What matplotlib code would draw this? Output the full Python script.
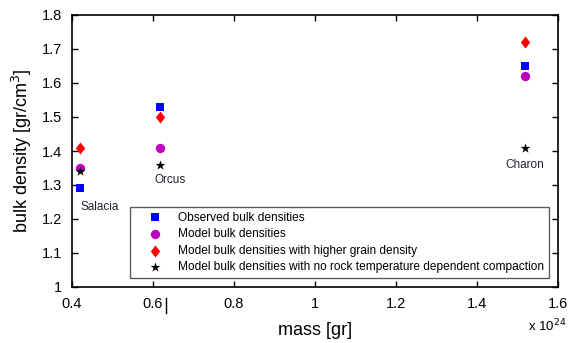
import matplotlib
matplotlib.use("Agg")
from matplotlib import pyplot as plt
from matplotlib.lines import Line2D

plt.rcParams["font.family"] = ["Liberation Sans", "DejaVu Sans"]

# masses in units of 1e24 gr
MASS = [0.42, 0.617, 1.518]
BODIES = ["Salacia", "Orcus", "Charon"]
OBSERVED = [1.29, 1.53, 1.65]
MODEL = [1.35, 1.41, 1.62]
HIGH_GRAIN = [1.41, 1.50, 1.72]
NO_COMPACTION = [1.34, 1.36, 1.41]
XTICKS = [0.4, 0.6, 0.8, 1.0, 1.2, 1.4, 1.6]
XTICKLABELS = ["0.4", "0.6", "0.8", "1", "1.2", "1.4", "1.6"]
YTICKS = [1.0, 1.1, 1.2, 1.3, 1.4, 1.5, 1.6, 1.7, 1.8]
YTICKLABELS = ["1", "1.1", "1.2", "1.3", "1.4", "1.5", "1.6", "1.7", "1.8"]

# a diamond a bit narrower than tall, like the original
DIAMOND = [(0, 1), (0.78, 0), (0, -1), (-0.78, 0), (0, 1)]

fig = plt.figure(figsize=(5.69, 3.43), dpi=100)
ax = fig.add_axes([72 / 569, 1 - 287 / 343, (558 - 72) / 569, (287 - 15) / 343])

ax.scatter(MASS, OBSERVED, marker="s", c="#0000ff", s=30, linewidths=0, label="Observed bulk densities", zorder=3)
ax.scatter(MASS, MODEL, marker="o", c="#bf00bf", s=45, linewidths=0, label="Model bulk densities", zorder=3)
ax.scatter(MASS, HIGH_GRAIN, marker=DIAMOND, c="#ff0000", s=75, linewidths=0,
           label="Model bulk densities with higher grain density", zorder=3)
ax.scatter(MASS, NO_COMPACTION, marker="*", c="black", s=55, linewidths=0,
           label="Model bulk densities with no rock temperature dependent compaction", zorder=4)

# body names
ax.text(0.42, 1.235, BODIES[0], fontsize=8.5, color="#222233", ha="left", va="center")
ax.text(0.604, 1.315, BODIES[1], fontsize=8.5, color="#222233", ha="left", va="center")
ax.text(1.518, 1.36, BODIES[2], fontsize=8.5, color="#222233", ha="center", va="center")

ax.set_xlim(0.4, 1.6)
ax.set_ylim(1.0, 1.8)
ax.set_xticks(XTICKS)
ax.set_xticklabels(XTICKLABELS)
ax.set_yticks(YTICKS)
ax.set_yticklabels(YTICKLABELS)
ax.tick_params(direction="in", top=True, right=True, length=4, width=1, labelsize=10.5, pad=7)
for s in ax.spines.values():
    s.set_linewidth(1.2)

ax.set_xlabel("mass [gr]", fontsize=13, labelpad=8)
ax.set_ylabel("bulk density [gr/cm$^3$]", fontsize=13, labelpad=6)
fig.text(528 / 569, 1 - 326 / 343, "x 10$^{24}$", fontsize=9.5, ha="left", va="center")

leg = ax.legend(loc="lower right", bbox_to_anchor=((549 - 72) / 486, (287 - 278) / 272),
                fontsize=8.6, frameon=True, fancybox=False, edgecolor="#333333",
                scatterpoints=1, handlelength=3.3, handletextpad=0.3,
                borderpad=0.4, labelspacing=0.38, borderaxespad=0)
leg.get_frame().set_linewidth(1.0)

# stray cursor mark beside the 0.6 label
fig.add_artist(Line2D([166 / 569, 166 / 569], [1 - 298 / 343, 1 - 313 / 343], color="black", lw=1))

fig.savefig("out.png", dpi=100)
